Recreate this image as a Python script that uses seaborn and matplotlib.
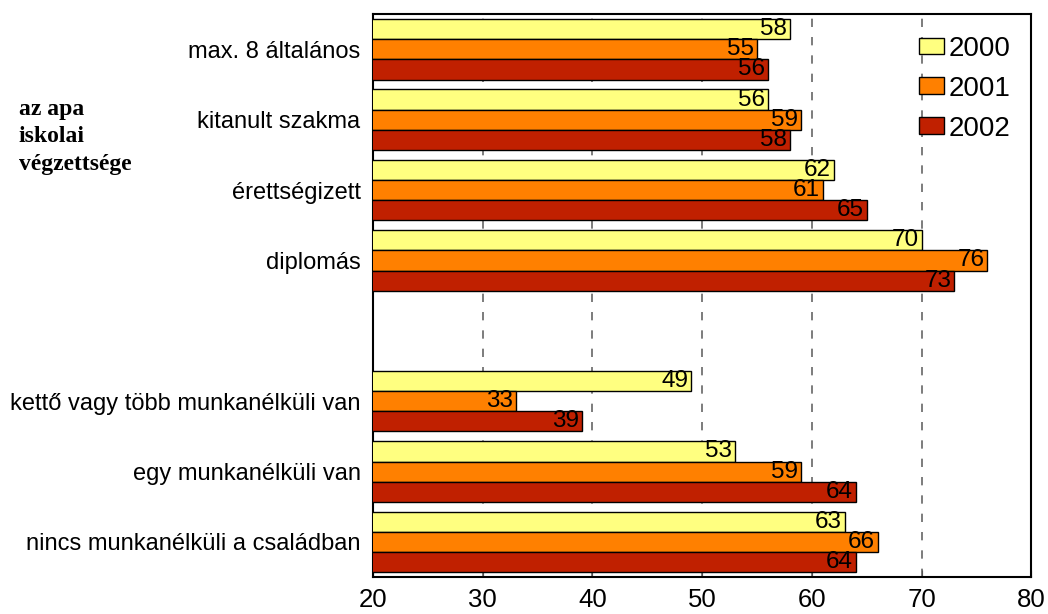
import numpy as np
import pandas as pd
import matplotlib.pyplot as plt
import seaborn as sns

# %% data

categories = ["max. 8 általános", "kitanult szakma", "érettségizett", "diplomás",
              "", "kettő vagy több munkanélküli van", "egy munkanélküli van",
              "nincs munkanélküli a családban"]
years = ["2000", "2001", "2002"]
v2000 = [58, 56, 62, 70, np.nan, 49, 53, 63]
v2001 = [55, 59, 61, 76, np.nan, 33, 59, 66]
v2002 = [56, 58, 65, 73, np.nan, 39, 64, 64]
colors = ["#FFFF80", "#FF8000", "#C02000"]

rows = []
for year, vals in zip(years, [v2000, v2001, v2002]):
    for cat, v in zip(categories, vals):
        if not np.isnan(v):
            rows.append({"cat": cat, "year": year, "value": v})
df = pd.DataFrame(rows)

# %% plot

sns.set_style("white")
plt.rcParams["font.family"] = ["Liberation Sans", "DejaVu Sans"]
plt.rcParams["text.color"] = "black"
plt.rcParams["xtick.color"] = "black"
plt.rcParams["ytick.color"] = "black"

fig, ax = plt.subplots(figsize=(10.48, 6.14), dpi=100)
fig.subplots_adjust(left=0.356, right=0.984, top=0.977, bottom=0.060)

sns.barplot(data=df, y="cat", x="value", hue="year", order=categories,
            hue_order=years, palette=colors, saturation=1, orient="h", width=0.86,
            edgecolor="black", linewidth=1, errorbar=None, ax=ax, zorder=3)

for c in ax.containers:
    labels = ["" if np.isnan(w) else f"{w:.0f}" for w in c.datavalues]
    texts = ax.bar_label(c, labels=labels, padding=-2, fontsize=17.5, color="black")
    for t in texts:
        t.set_ha("right")

ax.set_xlim(20, 80)
ax.set_xticks(np.arange(20, 81, 10))
ax.set_xlabel("")
ax.set_ylabel("")
ax.tick_params(axis="x", direction="in", length=5, labelsize=18.5, pad=8, bottom=True)
ax.tick_params(axis="y", length=0, labelsize=17, pad=9)

for x in [30, 40, 50, 60, 70]:
    ax.axvline(x, color="#666666", linestyle=(0, (5, 6)), linewidth=1.2, zorder=1)

for s in ax.spines.values():
    s.set_visible(True)
    s.set_color("black")
    s.set_linewidth(1.5)

leg = ax.legend(loc="upper right", frameon=False, fontsize=20,
                handlelength=0.9, handleheight=0.55, handletextpad=0.15,
                labelspacing=0.5, bbox_to_anchor=(1.006, 1.006))

fig.text(0.018, 1 - 99 / 614, "az apa\niskolai\nvégzettsége",
         family=["Liberation Serif", "DejaVu Serif"], fontweight="bold",
         fontsize=17, va="top", ha="left", linespacing=1.4)

plt.savefig("out.png", dpi=100)
